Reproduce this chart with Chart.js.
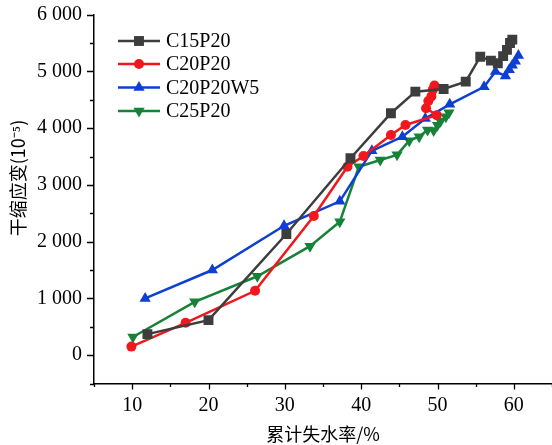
<!DOCTYPE html>
<html>
<head>
<meta charset="utf-8">
<script src="https://cdn.jsdelivr.net/npm/chart.js@4/dist/chart.umd.min.js"></script>
<style>
html,body{margin:0;padding:0;background:#fff;}
#wrap{width:552px;height:445px;position:relative;}
</style>
</head>
<body>
<div id="wrap"><canvas id="c"></canvas></div>
<script>
// ---- data ----
const seriesNames = ["C15P20", "C20P20", "C20P20W5", "C25P20"];
const c15X = [12.0, 20.0, 30.2, 38.6, 43.9, 47.1, 50.8, 53.7, 55.6, 57.0, 57.9, 58.6, 59.1, 59.5, 59.8];
const c15Y = [370, 617, 2134, 3470, 4263, 4644, 4690, 4820, 5260, 5190, 5144, 5270, 5380, 5500, 5560];
const c20X = [9.9, 17.0, 26.1, 33.8, 38.2, 40.3, 43.9, 45.8, 49.9, 48.5, 48.8, 49.2, 49.4, 49.6];
const c20Y = [150, 570, 1134, 2451, 3320, 3510, 3880, 4056, 4230, 4350, 4480, 4560, 4680, 4750];
const c20wX = [11.7, 20.5, 29.9, 37.2, 41.4, 45.4, 48.4, 51.6, 56.1, 57.6, 58.9, 59.4, 59.8, 60.2, 60.6];
const c20wY = [1000, 1500, 2280, 2710, 3600, 3850, 4170, 4420, 4730, 5000, 4920, 5030, 5110, 5180, 5280];
const c25X = [10.1, 18.2, 26.4, 33.3, 37.2, 39.7, 42.5, 44.7, 46.3, 47.6, 48.7, 49.5, 50.0, 50.4, 51.1, 51.5];
const c25Y = [320, 940, 1390, 1920, 2350, 3320, 3440, 3530, 3780, 3850, 3970, 3960, 4050, 4120, 4200, 4270];
const xTitle = "累计失水率/%";
const yTitle = "干缩应变(10⁻⁵)";

function pts(xs, ys){ return xs.map((x,i)=>({x:x, y:ys[i]})); }

const colors = ["#3d3d3d", "#f2171c", "#0d3fd0", "#168238"];
const styles = [
  {pointStyle:'rect', radius:7, rotation:0},
  {pointStyle:'circle', radius:5, rotation:0},
  {pointStyle:'triangle', radius:6.5, rotation:0},
  {pointStyle:'triangle', radius:6.5, rotation:180}
];
const dataXY = [pts(c15X,c15Y), pts(c20X,c20Y), pts(c20wX,c20wY), pts(c25X,c25Y)];

const datasets = seriesNames.map((n,i)=>({
  label:n,
  data:dataXY[i],
  borderColor:colors[i],
  backgroundColor:colors[i],
  borderWidth:2.5,
  pointStyle:styles[i].pointStyle,
  pointRadius:styles[i].radius,
  pointRotation:styles[i].rotation,
  pointBorderWidth:0,
  pointHoverRadius:styles[i].radius,
  showLine:true,
  tension:0
}));

function fmt(v){
  if (v < 0 || v % 1000 !== 0) return '';
  const s = String(v);
  return s.length > 3 ? s.slice(0, s.length-3) + ' ' + s.slice(-3) : s;
}

const extras = {
  id:'extras',
  afterDraw(chart){
    const ctx = chart.ctx;
    const xs = chart.scales.x, ys = chart.scales.y;
    const ca = chart.chartArea;
    ctx.save();
    ctx.strokeStyle = '#000';
    ctx.lineWidth = 1.3;
    ctx.beginPath();
    for (let v = 5; v <= 65; v += 5){
      const px = Math.round(xs.getPixelForValue(v)) + 0.5;
      const len = (v % 10 === 0) ? 6 : 3.5;
      ctx.moveTo(px, ca.bottom); ctx.lineTo(px, ca.bottom + len);
    }
    for (let v = -500; v <= 6000; v += 500){
      const py = Math.round(ys.getPixelForValue(v)) + 0.5;
      const len = (v % 1000 === 0) ? 7 : 4;
      ctx.moveTo(ca.left, py); ctx.lineTo(ca.left - len, py);
    }
    ctx.stroke();

    // y title
    ctx.fillStyle = '#000';
    ctx.font = '18px "Noto Sans CJK SC"';
    ctx.textAlign = 'center';
    ctx.textBaseline = 'middle';
    ctx.translate(18, 178);
    ctx.rotate(-Math.PI/2);
    ctx.fillText(yTitle, 0, 0);
    ctx.restore();

    // legend
    ctx.save();
    const rows = [41, 64, 87.5, 111];
    chart.data.datasets.forEach((ds, i) => {
      const y = rows[i];
      ctx.strokeStyle = ds.borderColor;
      ctx.lineWidth = 2.5;
      ctx.beginPath(); ctx.moveTo(118, y); ctx.lineTo(160, y); ctx.stroke();
      ctx.fillStyle = ds.backgroundColor;
      Chart.helpers.drawPoint(ctx, {pointStyle: ds.pointStyle, radius: ds.pointRadius, rotation: ds.pointRotation, borderWidth: 0}, 139, y);
      ctx.fillStyle = '#000';
      ctx.font = '20px "Liberation Serif"';
      ctx.textAlign = 'left';
      ctx.textBaseline = 'middle';
      ctx.fillText(ds.label, 166, y + 1);
    });
    ctx.restore();
  }
};

new Chart(document.getElementById('c'), {
  type:'scatter',
  data:{datasets:datasets},
  options:{
    responsive:true,
    maintainAspectRatio:false,
    animation:false,
    events:[],
    layout:{autoPadding:false, padding:{top:14.7, right:0, bottom:0, left:0}},
    plugins:{legend:{display:false}, tooltip:{enabled:false}},
    scales:{
      x:{
        type:'linear', min:5, max:65,
        afterFit(s){ s.height = 61.5; s.paddingLeft = 0; s.paddingRight = 0; },
        grid:{drawOnChartArea:false, drawTicks:false},
        border:{display:true, color:'#000', width:1.5},
        ticks:{stepSize:5, autoSkip:false, maxRotation:0, padding:10, color:'#000',
               font:{family:'Liberation Serif', size:20},
               callback:(v)=> (v % 10 === 0 ? String(v) : '')},
        title:{display:true, text:xTitle, color:'#000', padding:{top:0,bottom:0},
               font:{family:'Noto Sans CJK SC', size:18}}
      },
      y:{
        type:'linear', min:-500, max:6000,
        afterFit(s){ s.width = 94; s.paddingTop = 0; s.paddingBottom = 0; },
        grid:{drawOnChartArea:false, drawTicks:false},
        border:{display:true, color:'#000', width:1.5},
        ticks:{stepSize:500, autoSkip:false, padding:12, color:'#000',
               font:{family:'Liberation Serif', size:20},
               callback:(v)=> fmt(v)}
      }
    }
  },
  plugins:[extras]
});
</script>
</body>
</html>
